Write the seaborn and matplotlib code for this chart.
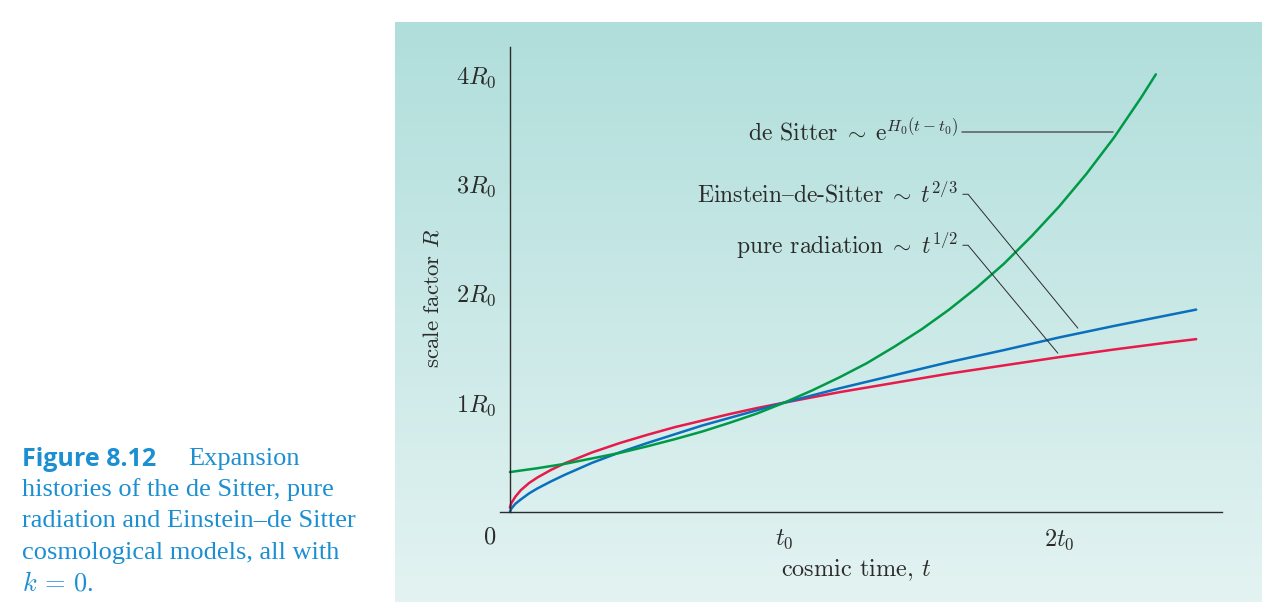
import numpy as np
import pandas as pd
import matplotlib
matplotlib.use("Agg")
import matplotlib.pyplot as plt
import seaborn as sns

# values (t in units of t0, R in units of R0)
t_power = [0, 0.005, 0.01, 0.02, 0.04, 0.07, 0.1, 0.15, 0.2, 0.3, 0.4, 0.5, 0.6,
           0.7, 0.8, 0.9, 1.0, 1.2, 1.4, 1.6, 1.8, 2.0, 2.2, 2.4, 2.5]
R_radiation = [0.04, 0.08, 0.10, 0.14, 0.20, 0.265, 0.315, 0.385, 0.445, 0.545, 0.63,
               0.705, 0.775, 0.835, 0.895, 0.95, 1.0, 1.095, 1.18, 1.265, 1.34, 1.415,
               1.485, 1.55, 1.58]
R_eds = [0.0, 0.03, 0.045, 0.075, 0.115, 0.17, 0.215, 0.28, 0.34, 0.45, 0.545, 0.63,
         0.71, 0.79, 0.86, 0.93, 1.0, 1.13, 1.25, 1.37, 1.48, 1.595, 1.70, 1.80, 1.85]

t_desitter = [0, 0.1, 0.2, 0.3, 0.4, 0.5, 0.6, 0.7, 0.8, 0.9, 1.0, 1.1, 1.2, 1.3,
              1.4, 1.5, 1.6, 1.7, 1.8, 1.9, 2.0, 2.1, 2.2, 2.3, 2.353]
R_desitter = [0.365, 0.40, 0.44, 0.49, 0.54, 0.60, 0.665, 0.735, 0.815, 0.90, 1.0,
              1.11, 1.23, 1.36, 1.51, 1.67, 1.85, 2.05, 2.27, 2.52, 2.79, 3.09, 3.42,
              3.79, 4.0]

x_ticks = [0, 0.5, 1, 1.5, 2, 2.5]
x_ticklabels = ["", "", "$t_0$", "", "$2t_0$", ""]
y_ticks = [1, 2, 3, 4]
y_ticklabels = ["$1R_0$", "$2R_0$", "$3R_0$", "$4R_0$"]

green = "#009a47"
blue = "#0a6fbd"
red = "#e8194b"
ink = "#2b2b2b"
cap_blue = "#1b8fd2"

sns.set_style("white")
plt.rcParams["font.family"] = ["cmr10", "DejaVu Serif"]
plt.rcParams["mathtext.fontset"] = "cm"
plt.rcParams["axes.unicode_minus"] = False

fig = plt.figure(figsize=(12.81, 6.10), dpi=100)

# gradient panel
bg = fig.add_axes([395 / 1281, 8 / 610, 867 / 1281, 580 / 610])
grad = np.linspace(0, 1, 256).reshape(-1, 1)
top = np.array([0.690, 0.871, 0.859])
bot = np.array([0.890, 0.953, 0.949])
img = top[None, None, :] * (1 - grad[:, :, None]) + bot[None, None, :] * grad[:, :, None]
bg.imshow(img, aspect="auto", extent=[0, 1, 0, 1])
bg.set_axis_off()

ax = fig.add_axes([500 / 1281, 98 / 610, 722 / 1281, 465 / 610])
ax.patch.set_alpha(0)

rad = pd.DataFrame({"t": t_power, "R": R_radiation})
eds = pd.DataFrame({"t": t_power, "R": R_eds})
ds = pd.DataFrame({"t": t_desitter, "R": R_desitter})
sns.lineplot(data=rad, x="t", y="R", color=red, lw=1.8, estimator=None, ax=ax)
sns.lineplot(data=eds, x="t", y="R", color=blue, lw=1.8, estimator=None, ax=ax)
sns.lineplot(data=ds, x="t", y="R", color=green, lw=1.8, estimator=None, ax=ax)

ax.set_xlim(-0.036, 2.594)
ax.set_ylim(0, 4.25)
ax.spines["left"].set_position(("data", 0))
for s in ["top", "right"]:
    ax.spines[s].set_visible(False)
for s in ["left", "bottom"]:
    ax.spines[s].set_color(ink)
    ax.spines[s].set_linewidth(1.0)

ax.set_xticks(x_ticks)
ax.set_xticklabels(x_ticklabels)
ax.set_yticks(y_ticks)
ax.set_yticklabels(y_ticklabels)
ax.tick_params(axis="both", direction="out", length=8, width=1.0, color=ink,
               labelcolor=ink, labelsize=17.5)
ax.tick_params(axis="x", pad=3)
ax.tick_params(axis="y", pad=2)
ax.text(-0.073, -0.23, "0", fontsize=17.5, color=ink, ha="center", va="center")

ax.set_xlabel("cosmic time, $t$", fontsize=17.5, color=ink)
ax.set_ylabel("scale factor $R$", fontsize=16.5, color=ink)
ax.xaxis.set_label_coords(0.494, -0.098)
ax.yaxis.set_label_coords(-0.080, 0.46)

# curve labels with leader lines ('{' is the en dash in cmr10)
ax.text(1.632, 3.47, r"de Sitter$\;\sim\;$e$^{H_0(t-t_0)}$", fontsize=17, color=ink,
        ha="right", va="center")
ax.plot([1.647, 2.197], [3.47, 3.47], color="#5a5a5a", lw=1.1)
ax.text(1.632, 2.90, r"Einstein{de-Sitter$\;\sim\;t^{2/3}$", fontsize=17, color=ink,
        ha="right", va="center")
ax.plot([1.650, 1.669, 2.069], [2.904, 2.904, 1.680], color=ink, lw=0.7)
ax.text(1.632, 2.44, r"pure radiation$\;\sim\;t^{1/2}$", fontsize=17, color=ink,
        ha="right", va="center")
ax.plot([1.650, 1.669, 1.996], [2.438, 2.438, 1.452], color=ink, lw=0.7)

# caption
fig.text(22 / 1281, 1 - 459 / 610, "Figure 8.12", fontsize=18, fontweight="bold",
         family="Open Sans", color=cap_blue, va="center")
fig.text(188 / 1281, 1 - 459 / 610, "Expansion", fontsize=19,
         family="Liberation Serif", color=cap_blue, va="center")
cap_lines = ["histories of the de Sitter, pure",
             "radiation and Einstein–de Sitter",
             "cosmological models, all with",
             "$k\\, =\\, 0$."]
for i, line in enumerate(cap_lines):
    fig.text(22 / 1281, 1 - (490 + 31.3 * i) / 610, line, fontsize=19,
             family="Liberation Serif", color=cap_blue, va="center")

fig.savefig("out.png", dpi=100)
